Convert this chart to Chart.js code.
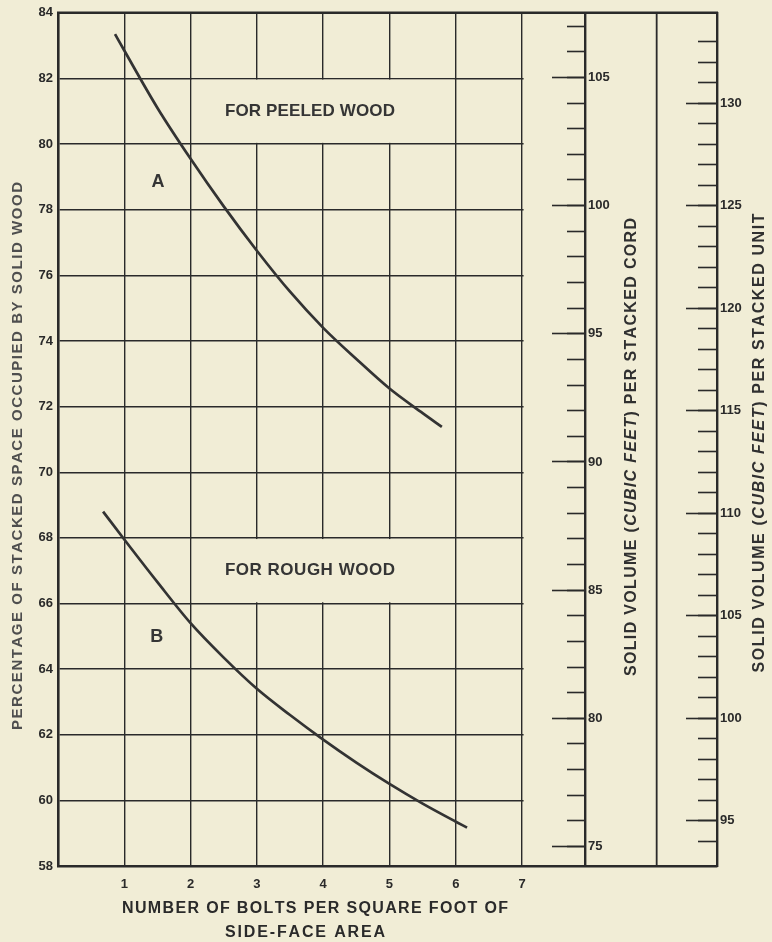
<!DOCTYPE html>
<html>
<head>
<meta charset="utf-8">
<script src="https://cdn.jsdelivr.net/npm/chart.js@4.4.1/dist/chart.umd.min.js"></script>
<style>
  html, body { margin: 0; padding: 0; background: #f1edd6; }
</style>
</head>
<body>
<canvas id="chart" width="772" height="942"></canvas>
<script>
// Curve A - peeled wood (bolts per sq ft of side face, percent solid wood)
const peeledBolts = [0.86, 1, 1.5, 2, 2.5, 3, 3.5, 4, 4.5, 5, 5.5, 5.79];
const peeledPct = [83.35, 82.85, 81.1, 79.55, 78.1, 76.75, 75.5, 74.4, 73.45, 72.55, 71.8, 71.38];

// Curve B - rough wood
const roughBolts = [0.68, 1, 1.5, 2, 2.5, 3, 3.5, 4, 4.5, 5, 5.5, 6, 6.17];
const roughPct = [68.8, 67.95, 66.65, 65.4, 64.35, 63.4, 62.6, 61.85, 61.15, 60.5, 59.9, 59.35, 59.17];

const boltTicks = [1, 2, 3, 4, 5, 6, 7];
const pctMin = 58, pctMax = 84;

// cubic feet of solid wood per 1 % of stacked space
const cuFtPerPctCord = 1.28;   // 128 cu ft cord
const cuFtPerPctUnit = 1.6;    // 160 cu ft unit
const hiddenUnitTicks = [93, 134];

const BG = '#f1edd6';
const INK = '#2a2a2a';
const XMAX = 9.94;      // right edge of the frame, in bolt units
const CORD_AT = 7.95;   // where the cord scale stands
const MID_RULE = 9.03;  // plain rule between the two volume scales

const labelBoxes = [
  { text: 'FOR PEELED WOOD', x: [2, 6], y: [82, 80], at: [3.8, 81] },
  { text: 'FOR ROUGH WOOD', x: [2, 6], y: [68, 66], at: [3.8, 67] }
];

function spacedText(ctx, parts, cx, cy, target, angle) {
  const chars = [];
  parts.forEach(p => {
    ctx.font = p.font;
    for (const ch of p.text) chars.push({ ch, font: p.font, w: ctx.measureText(ch).width });
  });
  const natural = chars.reduce((s, c) => s + c.w, 0);
  const gap = chars.length > 1 ? (target - natural) / (chars.length - 1) : 0;
  ctx.save();
  ctx.translate(cx, cy);
  ctx.rotate(angle);
  ctx.textBaseline = 'middle';
  ctx.textAlign = 'left';
  let x = -target / 2;
  chars.forEach(c => {
    ctx.font = c.font;
    ctx.fillText(c.ch, x, 0);
    x += c.w + gap;
  });
  ctx.restore();
}

const framePlugin = {
  id: 'frame',
  beforeDatasetsDraw(chart) {
    const { ctx, chartArea: a } = chart;
    const sx = chart.scales.x, sy = chart.scales.y;
    ctx.save();
    ctx.fillStyle = BG;
    // no horizontal rules beyond 7 bolts
    const x7 = sx.getPixelForValue(7);
    ctx.fillRect(x7 + 1.5, a.top + 2, a.right - x7 - 1.5, a.bottom - a.top - 4);
    // blank boxes for the two captions
    labelBoxes.forEach(b => {
      const l = sx.getPixelForValue(b.x[0]) + 1.2, r = sx.getPixelForValue(b.x[1]) - 1.2;
      const t = sy.getPixelForValue(b.y[0]) + 1.2, btm = sy.getPixelForValue(b.y[1]) - 1.2;
      ctx.fillRect(l, t, r - l, btm - t);
    });
    ctx.strokeStyle = INK;
    ctx.lineWidth = 2.5;
    ctx.beginPath();
    ctx.moveTo(a.left - 1, a.top);
    ctx.lineTo(a.right + 1, a.top);
    ctx.stroke();
    ctx.lineWidth = 1.8;
    const xm = sx.getPixelForValue(MID_RULE);
    ctx.beginPath();
    ctx.moveTo(xm, a.top);
    ctx.lineTo(xm, a.bottom);
    ctx.stroke();
    ctx.restore();
  },
  afterDraw(chart) {
    const { ctx } = chart;
    const sx = chart.scales.x, sy = chart.scales.y;
    ctx.save();
    ctx.fillStyle = INK;
    // volume scale numbers, right of their rules
    ['cordMajor', 'unitMajor'].forEach(id => {
      const s = chart.scales[id];
      const px = sx.getPixelForValue(s.options.position.x);
      ctx.font = 'bold 13px "Liberation Sans"';
      ctx.textAlign = 'left';
      ctx.textBaseline = 'middle';
      s.ticks.forEach(t => ctx.fillText(String(t.value), px + 3, s.getPixelForValue(t.value)));
    });
    // captions
    ctx.fillStyle = '#353535';
    labelBoxes.forEach(b => {
      spacedText(ctx, [{ text: b.text, font: 'bold 17px "Liberation Sans"' }],
        sx.getPixelForValue(b.at[0]), sy.getPixelForValue(b.at[1]), 170, 0);
    });
    ctx.font = 'bold 18px "Liberation Sans"';
    ctx.textAlign = 'center';
    ctx.textBaseline = 'middle';
    ctx.fillText('A', sx.getPixelForValue(1.51), sy.getPixelForValue(78.84));
    ctx.fillText('B', sx.getPixelForValue(1.49), sy.getPixelForValue(64.97));

    // axis titles
    const f = 'bold 16px "Liberation Sans"';
    const fi = 'italic bold 16px "Liberation Sans"';
    ctx.fillStyle = '#4e4e4e';
    spacedText(ctx, [{ text: 'PERCENTAGE OF STACKED SPACE OCCUPIED BY SOLID WOOD', font: 'bold 15px "Liberation Sans"' }],
      18, 456, 548, -Math.PI / 2);
    ctx.fillStyle = '#303030';
    spacedText(ctx, [{ text: 'SOLID VOLUME (', font: f }, { text: 'CUBIC FEET', font: fi },
      { text: ') PER STACKED CORD', font: f }], 632, 447, 458, -Math.PI / 2);
    spacedText(ctx, [{ text: 'SOLID VOLUME (', font: f }, { text: 'CUBIC FEET', font: fi },
      { text: ') PER STACKED UNIT', font: f }], 760, 443, 459, -Math.PI / 2);
    ctx.fillStyle = INK;
    spacedText(ctx, [{ text: 'NUMBER OF BOLTS PER SQUARE FOOT OF', font: f }], 315, 909, 386, 0);
    spacedText(ctx, [{ text: 'SIDE-FACE AREA', font: f }], 305, 933, 160, 0);
    ctx.restore();
  }
};

function pairs(xs, ys) {
  return xs.map((v, i) => ({ x: v, y: ys[i] }));
}

function volumeAxis(factor, step, tickLen, at, hide) {
  return {
    type: 'linear',
    axis: 'y',
    position: { x: at },
    min: pctMin * factor,
    max: pctMax * factor,
    ticks: { stepSize: step, includeBounds: false, display: false },
    afterBuildTicks: s => { if (hide) s.ticks = s.ticks.filter(t => !hide.includes(t.value)); },
    grid: { drawOnChartArea: false, drawTicks: true, tickLength: tickLen, tickColor: INK, tickWidth: 1.6, z: 1 },
    border: { display: step === 5, color: INK, width: 2.4, z: 1 }
  };
}

Chart.defaults.font.family = '"Liberation Sans"';

new Chart(document.getElementById('chart'), {
  type: 'scatter',
  data: {
    datasets: [
      { label: 'A', data: pairs(peeledBolts, peeledPct) },
      { label: 'B', data: pairs(roughBolts, roughPct) }
    ].map(d => Object.assign(d, {
      showLine: true,
      borderColor: '#333333',
      borderWidth: 2.7,
      pointRadius: 0,
      cubicInterpolationMode: 'monotone'
    }))
  },
  options: {
    responsive: false,
    animation: false,
    layout: { padding: { top: 12, right: 55, left: 0, bottom: 0 } },
    plugins: { legend: { display: false }, tooltip: { enabled: false } },
    scales: {
      x: {
        type: 'linear',
        min: 0,
        max: XMAX,
        afterBuildTicks: s => { s.ticks = s.ticks.filter(t => t.value <= 7); },
        afterFit: s => { s.height = 76; },
        ticks: {
          stepSize: 1,
          padding: 11,
          color: INK,
          font: { size: 13, weight: 'bold' },
          callback: v => boltTicks.includes(v) ? String(v) : ''
        },
        grid: { color: INK, lineWidth: 1.4, drawTicks: false },
        border: { color: INK, width: 2.6 }
      },
      y: {
        type: 'linear',
        min: pctMin,
        max: pctMax,
        afterFit: s => { s.width = 58; },
        ticks: { stepSize: 2, padding: 5, color: INK, font: { size: 13, weight: 'bold' } },
        grid: { color: INK, lineWidth: 1.4, drawTicks: false },
        border: { color: INK, width: 2.6 }
      },
      cordMinor: volumeAxis(cuFtPerPctCord, 1, 18, CORD_AT),
      cordMajor: volumeAxis(cuFtPerPctCord, 5, 32, CORD_AT),
      unitMinor: volumeAxis(cuFtPerPctUnit, 1, 19, XMAX, hiddenUnitTicks),
      unitMajor: volumeAxis(cuFtPerPctUnit, 5, 30, XMAX)
    }
  },
  plugins: [framePlugin]
});
</script>
</body>
</html>
